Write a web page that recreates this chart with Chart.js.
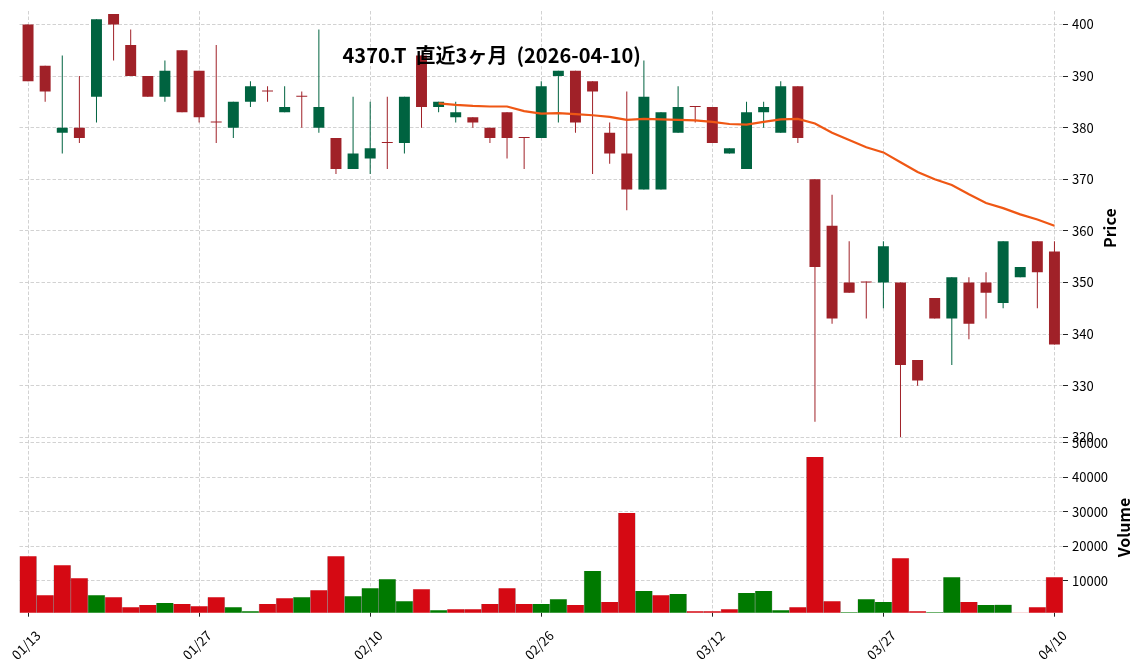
<!DOCTYPE html>
<html lang="ja">
<head>
<meta charset="utf-8">
<title>4370.T 直近3ヶ月</title>
<script src="https://cdn.jsdelivr.net/npm/chart.js@4.4.1/dist/chart.umd.min.js"></script>
<style>
  html, body { margin: 0; padding: 0; background: #fff; }
  canvas { display: block; }
</style>
</head>
<body>
<canvas id="chart" width="1144" height="670"></canvas>
<script>
const chartTitle = '4370.T  直近3ヶ月  (2026-04-10)';

const dates = [
  '01/13', '01/14', '01/15', '01/16', '01/19', '01/20', '01/21', '01/22', '01/23', '01/26',
  '01/27', '01/28', '01/29', '01/30', '02/02', '02/03', '02/04', '02/05', '02/06', '02/09',
  '02/10', '02/12', '02/13', '02/16', '02/17', '02/18', '02/19', '02/20', '02/24', '02/25',
  '02/26', '02/27', '03/02', '03/03', '03/04', '03/05', '03/06', '03/09', '03/10', '03/11',
  '03/12', '03/13', '03/16', '03/17', '03/18', '03/19', '03/23', '03/24', '03/25', '03/26',
  '03/27', '03/30', '03/31', '04/01', '04/02', '04/03', '04/06', '04/07', '04/08', '04/09',
  '04/10'
];
const tickDates = ['01/13', '01/27', '02/10', '02/26', '03/12', '03/27', '04/10'];

const opens = [
  400, 392, 379, 380, 386, 402, 396, 390, 386, 395,
  391, 381.2, 380, 385, 387.2, 383, 386.2, 380, 378, 372,
  374, 377.2, 377, 394, 384, 382, 382, 380, 383, 378.2,
  378, 390, 391, 389, 379, 375, 368, 368, 379, 384.2,
  384, 375, 372, 383, 379, 388, 370, 361, 350, 350.2,
  350, 350, 335, 347, 343, 350, 350, 346, 351, 358,
  356
];
const highs = [
  400, 392, 394, 390, 401, 402, 399, 390, 393, 395,
  391, 396, 385, 389, 388, 388, 387, 399, 378, 386,
  385, 386, 386, 394, 385, 385, 382, 380, 383, 378.2,
  389, 391, 391, 389, 381, 387, 393, 383, 388, 384.2,
  384, 376, 385, 385, 389, 388, 370, 367, 358, 350.2,
  358, 350, 335, 347, 351, 351, 352, 358, 353, 358,
  358
];
const lows = [
  389, 385, 375, 377, 381, 393, 390, 386, 385, 383,
  381, 377, 378, 384, 385, 383, 380, 379, 371, 372,
  371, 372, 375, 380, 383, 381, 380, 377, 374, 372,
  378, 381, 379, 371, 373, 364, 368, 368, 379, 381,
  377, 375, 372, 380, 379, 377, 323, 342, 348, 343,
  345, 320, 330, 343, 334, 339, 343, 345, 351, 345,
  338
];
const closes = [
  389, 387, 380, 378, 401, 400, 390, 386, 391, 383,
  382, 381, 385, 388, 387, 384, 386, 384, 372, 375,
  376, 377, 386, 384, 385, 383, 381, 378, 378, 378,
  388, 391, 381, 387, 375, 368, 386, 383, 384, 384,
  377, 376, 383, 384, 388, 378, 353, 343, 348, 350,
  357, 334, 331, 343, 351, 342, 348, 358, 353, 352,
  338
];
const volumes = [
  17100, 5800, 14500, 10700, 5800, 5200, 2300, 2900, 3500, 3200,
  2600, 5200, 2300, 1100, 3200, 4900, 5200, 7200, 17100, 5500,
  7800, 10400, 4000, 7500, 1400, 1700, 1700, 3200, 7800, 3200,
  3200, 4600, 2900, 12800, 3800, 29600, 7000, 5800, 6100, 1100,
  1100, 1700, 6400, 7000, 1400, 2300, 45900, 4000, 800, 4600,
  3800, 16500, 1100, 800, 11000, 3800, 2900, 3000, 700, 2300,
  11000
];
// 25日移動平均
const ma25 = Array(24).fill(null).concat([
  384.7, 384.4, 384.2, 384.1, 384.1, 383.2, 382.7, 382.8, 382.6, 382.4,
  382.1, 381.5, 381.7, 381.6, 381.5, 381.4, 381.1, 380.7, 380.6, 381.1,
  381.6, 381.7, 380.8, 379.0, 377.6, 376.2, 375.2, 373.3, 371.4, 370.0,
  368.9, 367.1, 365.4, 364.4, 363.2, 362.2, 361.0
]);

const priceTicks = [320, 330, 340, 350, 360, 370, 380, 390, 400];
const volumeTicks = [10000, 20000, 30000, 40000, 50000];

const upColor = '#006340', downColor = '#a02128';
const volUpColor = '#007a00', volDownColor = '#d50913';
const maColor = '#ef5714';
const gridColor = '#c6c6c6';
const fontFamily = '"Noto Sans CJK JP", "Noto Sans", sans-serif';

const candleColors = closes.map((c, i) => c >= opens[i] ? upColor : downColor);
const volumeColors = closes.map((c, i) => c > (i ? closes[i - 1] : opens[0]) ? volUpColor : volDownColor);

Chart.defaults.font.family = fontFamily;
Chart.defaults.font.size = 13;
Chart.defaults.color = '#000';

function fixedTicks(values) {
  return function (scale) {
    scale.ticks = values.map(v => ({ value: v }));
  };
}

function yAxisFit(scale) {
  scale.width = 81;
  scale.paddingTop = 0;
  scale.paddingBottom = 0;
}

const panelLabels = {
  id: 'panelLabels',
  afterDraw(chart) {
    const ctx = chart.ctx, area = chart.chartArea;
    const yp = chart.scales.y, yv = chart.scales.yv;
    ctx.save();
    ctx.fillStyle = '#000';
    ctx.textAlign = 'center';
    ctx.textBaseline = 'middle';
    ctx.font = 'bold 20px ' + fontFamily;
    ctx.fillText(chartTitle, area.left + (area.right - area.left) * 0.4525, 55);

    ctx.font = 'bold 16px ' + fontFamily;
    [['Price', area.right + 47, (yp.top + yp.bottom) / 2 + 4],
     ['Volume', area.right + 61, (yv.top + yv.bottom) / 2 + 2.5]].forEach(l => {
      ctx.save();
      ctx.translate(l[1], l[2]);
      ctx.rotate(-Math.PI / 2);
      ctx.fillText(l[0], 0, 0);
      ctx.restore();
    });
    ctx.restore();
  }
};

new Chart(document.getElementById('chart'), {
  data: {
    labels: dates,
    datasets: [
      {
        type: 'line',
        data: ma25,
        yAxisID: 'y',
        borderColor: maColor,
        borderWidth: 2.2,
        pointRadius: 0,
        tension: 0,
        order: 0
      },
      {
        type: 'bar',
        data: opens.map((o, i) => [o, closes[i]]),
        yAxisID: 'y',
        backgroundColor: candleColors,
        borderWidth: 0,
        grouped: false,
        barPercentage: 0.64,
        categoryPercentage: 1,
        order: 1
      },
      {
        type: 'bar',
        data: lows.map((l, i) => [l, highs[i]]),
        yAxisID: 'y',
        backgroundColor: candleColors,
        borderWidth: 0,
        grouped: false,
        barThickness: 1,
        inflateAmount: 0,
        order: 2
      },
      {
        type: 'bar',
        data: volumes,
        yAxisID: 'yv',
        backgroundColor: volumeColors,
        borderColor: 'rgba(0, 0, 0, 0.3)',
        borderWidth: { left: 0.6, right: 0.6, top: 0, bottom: 0 },
        borderSkipped: false,
        grouped: false,
        barPercentage: 1,
        categoryPercentage: 1,
        order: 3
      }
    ]
  },
  options: {
    responsive: false,
    animation: false,
    events: [],
    layout: { padding: { left: 19.5, top: 11, right: 0, bottom: 0 } },
    plugins: { legend: { display: false }, tooltip: { enabled: false } },
    scales: {
      x: {
        type: 'category',
        offset: true,
        grid: { offset: false, color: gridColor, lineWidth: 0.8, tickLength: 4, tickColor: '#222', tickWidth: 1 },
        border: { display: false, dash: [3.5, 2] },
        ticks: { autoSkip: false, maxRotation: 45, minRotation: 45, padding: 11, labelOffset: 10 },
        afterBuildTicks(scale) {
          scale.ticks = scale.ticks.filter(t => tickDates.indexOf(dates[t.value]) !== -1);
        },
        afterFit(scale) {
          scale.height = 57.3;
          scale.paddingLeft = 0;
          scale.paddingRight = 0;
        }
      },
      y: {
        type: 'linear',
        position: 'right',
        stack: 'panels',
        stackWeight: 426.3,
        min: 320,
        max: 402.6,
        grid: { color: gridColor, lineWidth: 0.8, tickLength: 5, tickColor: '#222', tickWidth: 1 },
        border: { display: false, dash: [3.5, 2] },
        ticks: { padding: 4, callback: v => String(v) },
        afterBuildTicks: fixedTicks(priceTicks),
        afterFit: yAxisFit
      },
      yv: {
        type: 'linear',
        position: 'right',
        stack: 'panels',
        stackWeight: 175.4,
        min: 700,
        max: 51600,
        grid: { color: gridColor, lineWidth: 0.8, tickLength: 5, tickColor: '#222', tickWidth: 1 },
        border: { display: false, dash: [3.5, 2] },
        ticks: { padding: 4, callback: v => String(v) },
        afterBuildTicks: fixedTicks(volumeTicks),
        afterFit: yAxisFit
      }
    }
  },
  plugins: [panelLabels]
});
</script>
</body>
</html>
